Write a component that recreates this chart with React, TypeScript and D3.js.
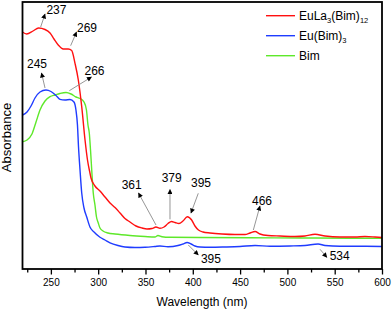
import * as d3 from 'd3';
import React, { useRef, useEffect } from 'react';

const width = 392;
const height = 311;
const margin = { top: 2, right: 10, bottom: 42, left: 22.5 };
const font = 'Arial, "Liberation Sans", sans-serif';

// EuLa3(Bim)12
const euLaNm = [220, 224.4, 231.1, 237, 243.8, 249.1, 253.3, 257.8, 263.1, 268.4, 272, 275.5, 279, 282.6, 286.1, 288.7, 291.3, 292.4, 296.6, 301.9, 307.2, 312.5, 317.8, 323.1, 328.3, 333.6, 340, 346.3, 351.6, 356.9, 361.1, 365.3, 369.6, 373.8, 377.5, 381.2, 385.4, 389.6, 394.2, 398.8, 402.3, 406, 410.8, 418.2, 430.9, 444.6, 455.2, 460.5, 465.8, 471, 479.5, 492.2, 508, 518.6, 529.2, 539.8, 555.6, 571.5, 582, 592.6, 600];
const euLaAbs = [2.37, 2.35, 2.38, 2.41, 2.395, 2.36, 2.3, 2.24, 2.2, 2.2, 2.185, 2.057, 1.89, 1.623, 1.29, 1.09, 0.96, 0.91, 0.83, 0.78, 0.72, 0.66, 0.615, 0.56, 0.505, 0.47, 0.43, 0.41, 0.4, 0.405, 0.42, 0.407, 0.42, 0.455, 0.475, 0.465, 0.455, 0.48, 0.523, 0.49, 0.43, 0.39, 0.37, 0.36, 0.35, 0.345, 0.345, 0.36, 0.375, 0.35, 0.335, 0.33, 0.325, 0.33, 0.347, 0.33, 0.32, 0.32, 0.325, 0.32, 0.315];

// Eu(Bim)3
const euNm = [220, 224.8, 229, 233.2, 238.5, 244.8, 250.1, 255.4, 259.6, 264.9, 270.2, 274.4, 276.5, 278.1, 279.2, 280.8, 282.6, 285, 287.9, 291.3, 295.6, 301.9, 307.2, 312.5, 320.9, 328.3, 338.9, 349.5, 360, 365.3, 373.8, 384.4, 389.6, 394, 398.1, 402.3, 407.6, 418.2, 434, 449.9, 465.8, 481.7, 502.8, 518.6, 532.4, 539.8, 555.6, 576.7, 600];
const euAbs = [1.54, 1.57, 1.63, 1.71, 1.77, 1.79, 1.775, 1.735, 1.697, 1.69, 1.695, 1.67, 1.59, 1.44, 1.223, 0.99, 0.76, 0.61, 0.52, 0.42, 0.37, 0.317, 0.29, 0.262, 0.235, 0.22, 0.215, 0.217, 0.225, 0.23, 0.223, 0.235, 0.25, 0.265, 0.25, 0.23, 0.22, 0.217, 0.22, 0.225, 0.235, 0.227, 0.23, 0.235, 0.25, 0.235, 0.227, 0.227, 0.225];

// Bim
const bimNm = [220, 224.8, 230, 234.3, 238.5, 243.8, 249.1, 254.4, 259.6, 266, 271.3, 276.5, 280.8, 285, 287.6, 289.2, 290.6, 291.9, 293.5, 294.8, 296.6, 298.2, 300.1, 301.9, 305.1, 310.4, 317.8, 333.6, 349.5, 360, 363.2, 367.4, 375.9, 407.6, 460.5, 513.3, 566.2, 600];
const bimAbs = [1.273, 1.29, 1.35, 1.47, 1.59, 1.68, 1.723, 1.74, 1.755, 1.765, 1.75, 1.72, 1.705, 1.67, 1.59, 1.44, 1.36, 1.19, 0.94, 0.76, 0.64, 0.52, 0.46, 0.41, 0.38, 0.36, 0.35, 0.335, 0.325, 0.32, 0.335, 0.323, 0.317, 0.315, 0.312, 0.31, 0.308, 0.307];

const majorTicks = [250, 300, 350, 400, 450, 500, 550, 600];
const minorTicks = [225, 275, 325, 375, 425, 475, 525, 575];

// peak labels: arrow tail, arrow head, text (nm, abs)
const peakLabels = ['237', '269', '245', '266', '361', '379', '395', '395', '466', '534'];
const arrowFrom = [[239.2, 2.42], [270.9, 2.233], [243.8, 1.81], [269.5, 1.783], [361.1, 0.44], [375.9, 0.497], [405.8, 0.757], [395.3, 0.24], [464, 0.39], [534.5, 0.197]];
const arrowTo = [[243.8, 2.55], [277.1, 2.37], [240.1, 1.96], [292.9, 1.92], [342.6, 0.76], [375.9, 0.795], [398.1, 0.56], [405.8, 0.14], [471, 0.63], [541.7, 0.117]];
const labelAt = [[255.9, 2.555], [288.2, 2.37], [235.3, 2.01], [296.1, 1.94], [335.4, 0.797], [377.7, 0.873], [408.7, 0.823], [419.2, 0.063], [473.2, 0.64], [555.3, 0.09]];

const series = [
  { name: [['EuLa', false], ['3', true], ['(Bim)', false], ['12', true]], nm: euLaNm, abs: euLaAbs, color: '#ff1010' },
  { name: [['Eu(Bim)', false], ['3', true]], nm: euNm, abs: euAbs, color: '#1f3cff' },
  { name: [['Bim', false]], nm: bimNm, abs: bimAbs, color: '#5ee82a' },
];

function App() {
  const ref = useRef(null);

  useEffect(() => {
    const svg = d3.select(ref.current);
    svg.selectAll('*').remove();

    const x = d3.scaleLinear().domain([220, 600]).range([margin.left, width - margin.right]);
    const y = d3.scaleLinear().domain([0, 2.67]).range([height - margin.bottom, margin.top]);

    svg.append('defs').append('marker')
      .attr('id', 'arrowhead')
      .attr('viewBox', '0 0 10 10')
      .attr('refX', 9)
      .attr('refY', 5)
      .attr('markerWidth', 6)
      .attr('markerHeight', 5)
      .attr('markerUnits', 'userSpaceOnUse')
      .attr('orient', 'auto')
      .append('path')
      .attr('d', 'M0,0 L10,5 L0,10 z')
      .attr('fill', '#000');

    const line = d3.line()
      .x(d => x(d[0]))
      .y(d => y(d[1]))
      .curve(d3.curveMonotoneX);

    // draw back to front: green, blue, red
    series.slice().reverse().forEach(s => {
      svg.append('path')
        .datum(s.nm.map((n, i) => [n, s.abs[i]]))
        .attr('d', line)
        .attr('fill', 'none')
        .attr('stroke', s.color)
        .attr('stroke-width', 1.4);
    });

    // axis ticks
    const axisY = y(0);
    const minor = svg.append('g')
      .attr('transform', `translate(0,${axisY})`)
      .call(d3.axisBottom(x).tickValues(minorTicks).tickSize(3.5).tickSizeOuter(0).tickFormat(() => ''));
    minor.select('.domain').remove();
    minor.selectAll('line').attr('stroke-width', 1.3);

    const major = svg.append('g')
      .attr('transform', `translate(0,${axisY})`)
      .call(d3.axisBottom(x).tickValues(majorTicks).tickSize(5.5).tickSizeOuter(0).tickPadding(4.5).tickFormat(d3.format('d')));
    major.select('.domain').remove();
    major.selectAll('line').attr('stroke-width', 1.3);
    major.selectAll('text').attr('font-size', 10).attr('font-family', font).attr('fill', '#000');

    // frame
    svg.append('rect')
      .attr('x', x(220))
      .attr('y', y(2.67))
      .attr('width', x(600) - x(220))
      .attr('height', y(0) - y(2.67))
      .attr('fill', 'none')
      .attr('stroke', '#000')
      .attr('stroke-width', 1.8);

    // peak annotations
    peakLabels.forEach((lab, i) => {
      svg.append('line')
        .attr('x1', x(arrowFrom[i][0]))
        .attr('y1', y(arrowFrom[i][1]))
        .attr('x2', x(arrowTo[i][0]))
        .attr('y2', y(arrowTo[i][1]))
        .attr('stroke', '#8a8a8a')
        .attr('stroke-width', 0.9)
        .attr('marker-end', 'url(#arrowhead)');
      svg.append('text')
        .attr('x', x(labelAt[i][0]))
        .attr('y', y(labelAt[i][1]))
        .attr('text-anchor', 'middle')
        .attr('font-size', 12)
        .attr('font-family', font)
        .attr('fill', '#000')
        .text(lab);
    });

    // legend
    series.forEach((s, i) => {
      const ly = 15.7 + i * 20;
      svg.append('line')
        .attr('x1', 266).attr('x2', 295)
        .attr('y1', ly).attr('y2', ly)
        .attr('stroke', s.color)
        .attr('stroke-width', 1.4);
      const t = svg.append('text')
        .attr('x', 299)
        .attr('y', ly + 4.3)
        .attr('font-size', 12)
        .attr('font-family', font)
        .attr('fill', '#000');
      let sub = false;
      s.name.forEach(([part, isSub]) => {
        const ts = t.append('tspan').text(part);
        if (isSub && !sub) ts.attr('dy', 3).attr('font-size', 7.5);
        if (!isSub && sub) ts.attr('dy', -3);
        if (isSub && sub) ts.attr('font-size', 7.5);
        sub = isSub;
      });
    });

    // axis titles
    svg.append('text')
      .attr('x', 202)
      .attr('y', 306)
      .attr('text-anchor', 'middle')
      .attr('font-size', 12)
      .attr('font-family', font)
      .text('Wavelength (nm)');

    svg.append('text')
      .attr('transform', 'translate(10.7,137.5) rotate(-90)')
      .attr('text-anchor', 'middle')
      .attr('font-size', 13)
      .attr('font-family', font)
      .text('Absorbance');
  }, []);

  return (
    <svg ref={ref} width={width} height={height} style={{ position: 'absolute', left: 0, top: 0, background: '#fff' }}>
    </svg>
  );
}

export default App;
